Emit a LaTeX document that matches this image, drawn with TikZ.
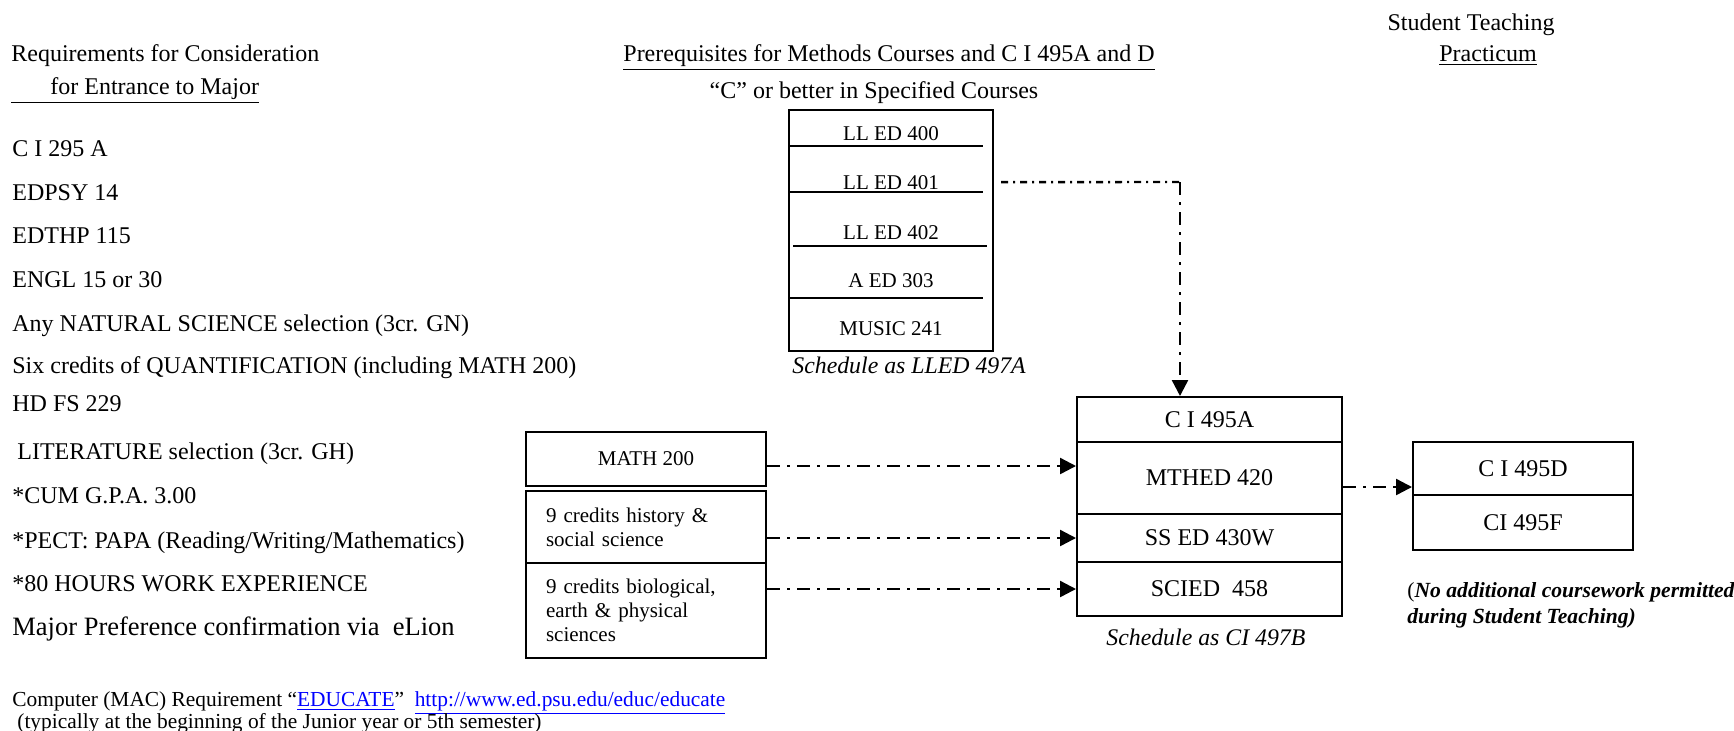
\documentclass[tikz,border=0pt]{standalone}
\usepackage{fontspec}
\setmainfont{Liberation Serif}
\usetikzlibrary{arrows.meta,positioning}
\definecolor{linkblue}{RGB}{0,0,255}

\begin{document}
\begin{tikzpicture}
[x=0.5pt,y=-0.5pt,
txt/.style={inner sep=0pt,anchor=base west,font=\fontsize{12}{14}\selectfont},
small/.style={inner sep=0pt,anchor=base,font=\fontsize{10.5}{12}\selectfont},
course/.style={draw=black,line width=1pt,inner sep=0pt,minimum width=132.5pt,font=\fontsize{12}{14}\selectfont},
prereq/.style={draw=black,line width=1pt,inner sep=0pt,minimum width=120pt,font=\fontsize{10.5}{12}\selectfont},
flow/.style={line width=1.2pt,dash pattern=on 6.5pt off 3.5pt on 1.5pt off 3.5pt,-{Triangle[length=8pt,width=8pt]}}]

\useasboundingbox (0,0) rectangle (1734,730);

\node[txt] (h1) at (11,61) {Requirements for Consideration};
\node[txt] (h2) at (11,94) {\underline{\hspace{19.5pt}for Entrance to Major}};
\node[txt] (h3) at (623,61) {\underline{Prerequisites for Methods Courses and C I 495A and D}};
\node[txt,anchor=base] (h4) at (874,98) {“C” or better in Specified Courses};
\node[txt,anchor=base] (h5) at (1471,30) {Student Teaching};
\node[txt,anchor=base] (h6) at (1488,61) {\underline{Practicum}};

\node[txt] (r1) at (12,156) {C I 295 A};
\node[txt] (r2) at (12,200) {EDPSY 14};
\node[txt] (r3) at (12,243) {EDTHP 115};
\node[txt] (r4) at (12,287) {ENGL 15 or 30};
\node[txt] (r5) at (12,331) {Any NATURAL SCIENCE selection (3cr. GN)};
\node[txt] (r6) at (12,373) {Six credits of QUANTIFICATION (including MATH 200)};
\node[txt] (r7) at (12,411) {HD FS 229};
\node[txt] (r8) at (17,459) {LITERATURE selection (3cr. GH)};
\node[txt] (r9) at (12,503) {*CUM G.P.A. 3.00};
\node[txt] (r10) at (12,548) {*PECT: PAPA (Reading/Writing/Mathematics)};
\node[txt] (r11) at (12,591) {*80 HOURS WORK EXPERIENCE};
\node[txt,font=\fontsize{13.25}{15}\selectfont] (r12) at (12,635) {Major Preference confirmation via\ \ eLion};

\node[draw,line width=1pt,inner sep=0pt,minimum width=102pt,minimum height=120.5pt] (stack) at (891,230.5) {};
\node[small] (ll400) at (891,140) {LL ED 400};
\node[small] (ll401) at (891,189) {LL ED 401};
\node[small] (ll402) at (891,239) {LL ED 402};
\node[small] (aed303) at (891,287) {A ED 303};
\node[small] (mus241) at (891,335) {MUSIC 241};
\draw[line width=1pt] (790,146) -- (983,146);
\draw[line width=1pt] (790,192) -- (983,192);
\draw[line width=1pt] (793,246) -- (987,246);
\draw[line width=1pt] (790,298) -- (983,298);
\node[txt,font=\fontsize{11.9}{14}\selectfont\itshape] (sch1) at (792,373.5) {Schedule as LLED 497A};

\node[prereq,minimum height=27pt] (math) at (646,459) {MATH 200};
\node[prereq,minimum height=36pt,text width=100pt,align=left] (hist) at (646,527) {9 credits history \&\\ social science};
\node[prereq,minimum height=47.5pt,text width=100pt,align=left] (bio) at (646,610.5) {9 credits biological,\\ earth \& physical\\ sciences\\[-4pt]};

\node[course,minimum height=22.5pt] (cia) at (1209.5,419.5) {C I 495A};
\node[course,minimum height=36pt] (mthed) at (1209.5,478) {MTHED 420};
\node[course,minimum height=24pt] (ssed) at (1209.5,538) {SS ED 430W};
\node[course,minimum height=27pt] (scied) at (1209.5,589) {SCIED\ \ 458};
\node[txt,font=\fontsize{11.9}{14}\selectfont\itshape] (sch2) at (1106,645.5) {Schedule as CI 497B};

\node[course,minimum width=110pt,minimum height=26.5pt] (cid) at (1523,468.5) {C I 495D};
\node[course,minimum width=110pt,minimum height=27.5pt] (cif) at (1523,522.5) {CI 495F};
\node[txt,font=\fontsize{10.8}{12}\selectfont] (note1) at (1407,597) {(\textbf{\textit{No additional coursework permitted}}};
\node[txt,font=\fontsize{10.8}{12}\selectfont\bfseries\itshape] (note2) at (1407,623) {during Student Teaching)};

\node[txt,font=\fontsize{10.7}{12}\selectfont] (c1) at (12,706) {Computer (MAC) Requirement “\textcolor{linkblue}{\underline{EDUCATE}}”\ \ \textcolor{linkblue}{\underline{http://www.ed.psu.edu/educ/educate}}};
\node[txt,font=\fontsize{10.7}{12}\selectfont] (c2) at (17,728) {(typically at the beginning of the Junior year or 5th semester)};

% connectors
\coordinate (s1) at ([xshift=3.5pt]stack.east |- ll401.center);
\coordinate (bend) at (1180,182);
\draw[line width=1.2pt,dash pattern=on 3.5pt off 2.5pt on 1pt off 2.5pt] (s1) -- (bend);
\draw[flow] (bend) -- (bend |- cia.north);

\coordinate (m1) at ([yshift=-3.5pt]math.east);
\draw[flow] (m1) -- (m1 -| mthed.west);
\draw[flow] (hist.east |- ssed.west) -- (ssed.west);
\draw[flow] (bio.east |- scied.west) -- (scied.west);

\coordinate (m2) at ([yshift=-4.5pt]mthed.east);
\draw[flow] (m2) -- (m2 -| cid.west);
\end{tikzpicture}
\end{document}
